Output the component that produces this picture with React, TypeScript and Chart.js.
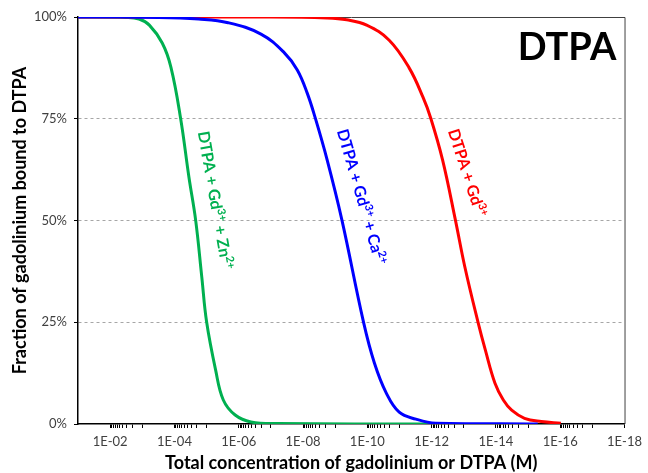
import React, { useEffect, useRef } from 'react';
import { Chart, registerables } from 'chart.js';

Chart.register(...registerables);

// ---- data (concentration in M, fraction bound in %) ----
const greenConc = [1e-1, 3.16e-3, 1.26e-3, 6.03e-4, 2.4e-4, 1.29e-4, 6.46e-5, 3.55e-5, 2.19e-5, 1.41e-5, 1.0e-5, 5.25e-6, 3.02e-6, 1.29e-6, 4.17e-7, 6.17e-8, 1e-12];
const greenFrac = [100, 99.9, 99.5, 98, 93.6, 87.7, 75.2, 60.7, 50.1, 36.1, 25.1, 13.3, 5.9, 2.2, 0.5, 0.1, 0];

const blueConc = [1e-1, 3.16e-4, 1.78e-5, 2.14e-6, 2.04e-7, 3.8e-8, 1.51e-8, 7.41e-9, 4.17e-9, 1.78e-9, 6.17e-10, 1.32e-10, 6.03e-11, 2.57e-11, 1.02e-11, 3.09e-12, 7.41e-13, 5.01e-16];
const blueFrac = [100, 99.9, 99.5, 98.6, 95.8, 91.2, 87.0, 81.3, 75.2, 64.9, 50.1, 25.1, 15.0, 7.6, 2.9, 1.2, 0.2, 0];

const redConc = [1e-1, 1e-7, 1.78e-9, 4.37e-10, 1.05e-10, 2.09e-11, 5.01e-12, 1.86e-12, 1.07e-12, 4.57e-13, 1.82e-13, 9.33e-14, 3.63e-14, 2.14e-14, 1.07e-14, 5.89e-15, 3.24e-15, 1.29e-15, 3.89e-16, 9.55e-17];
const redFrac = [100, 100, 99.75, 99.3, 98.0, 94.3, 87.5, 80.3, 75.2, 64.9, 50.1, 38.7, 25.1, 18.2, 10.0, 5.9, 3.4, 1.4, 0.6, 0.2];

const xTickValues = [1e-2, 1e-4, 1e-6, 1e-8, 1e-10, 1e-12, 1e-14, 1e-16, 1e-18];
const xTickLabels = ['1E-02', '1E-04', '1E-06', '1E-08', '1E-10', '1E-12', '1E-14', '1E-16', '1E-18'];
const yTickValues = [0, 25, 50, 75, 100];
const yTickLabels = ['0%', '25%', '50%', '75%', '100%'];

const xTitle = 'Total concentration of gadolinium or DTPA (M)';
const yTitle = 'Fraction of gadolinium bound to DTPA';
const chartTitle = 'DTPA';

const greenLabel = [['DTPA + Gd', false], ['3+', true], [' + Zn', false], ['2+', true]] as [string, boolean][];
const blueLabel = [['DTPA + Gd', false], ['3+', true], [' + Ca', false], ['2+', true]] as [string, boolean][];
const redLabel = [['DTPA + Gd', false], ['3+', true]] as [string, boolean][];

const GREEN = '#00B050';
const BLUE = '#0000FF';
const RED = '#FF0000';
const FONT = 'Lato, "Open Sans", sans-serif';

const toPoints = (xs: number[], ys: number[]) => xs.map((x, i) => ({ x, y: ys[i] }));

const labels = [
  { parts: greenLabel, conc: 1.9e-5, frac: 71.7, angle: 80, color: GREEN },
  { parts: blueLabel, conc: 8.9e-10, frac: 72, angle: 74, color: BLUE },
  { parts: redLabel, conc: 3.16e-13, frac: 72, angle: 72, color: RED },
];

const overlay = {
  id: 'overlay',
  beforeDatasetsDraw(chart: any) {
    const { ctx, chartArea } = chart;
    ctx.save();
    ctx.strokeStyle = '#404040';
    ctx.lineWidth = 1;
    ctx.beginPath();
    ctx.moveTo(chartArea.left, chartArea.top + 0.5);
    ctx.lineTo(chartArea.right + 0.5, chartArea.top + 0.5);
    ctx.lineTo(chartArea.right + 0.5, chartArea.bottom);
    ctx.stroke();
    ctx.restore();
  },
  afterDatasetsDraw(chart: any) {
    const { ctx, chartArea, scales } = chart;
    ctx.save();
    labels.forEach((lb) => {
      const px = scales.x.getPixelForValue(lb.conc);
      const py = scales.y.getPixelForValue(lb.frac);
      ctx.save();
      ctx.translate(px, py);
      ctx.rotate((lb.angle * Math.PI) / 180);
      ctx.fillStyle = lb.color;
      ctx.textBaseline = 'alphabetic';
      ctx.textAlign = 'left';
      let cx = 0;
      lb.parts.forEach(([t, sup]) => {
        ctx.font = sup ? `bold 11px ${FONT}` : `bold 16px ${FONT}`;
        ctx.fillText(t, cx, sup ? -6 : 0);
        cx += ctx.measureText(t).width;
      });
      ctx.restore();
    });
    ctx.fillStyle = '#000';
    ctx.font = `bold 38px ${FONT}`;
    ctx.textAlign = 'center';
    ctx.textBaseline = 'middle';
    ctx.fillText(chartTitle, 567, 48);
    ctx.font = `bold 18px ${FONT}`;
    ctx.fillText(xTitle, (chartArea.left + chartArea.right) / 2, 463);
    ctx.save();
    ctx.translate(20, (chartArea.top + chartArea.bottom) / 2);
    ctx.rotate(-Math.PI / 2);
    ctx.fillText(yTitle, 0, 0);
    ctx.restore();
    ctx.restore();
  },
};

export default function App() {
  const ref = useRef<HTMLCanvasElement>(null);
  useEffect(() => {
    if (!ref.current) return;
    const chart = new Chart(ref.current, {
      type: 'line',
      data: {
        datasets: [
          { label: 'DTPA + Gd + Ca', data: toPoints(blueConc, blueFrac), borderColor: BLUE },
          { label: 'DTPA + Gd', data: toPoints(redConc, redFrac), borderColor: RED },
          { label: 'DTPA + Gd + Zn', data: toPoints(greenConc, greenFrac), borderColor: GREEN },
        ].map((d) => ({
          ...d,
          borderWidth: 3,
          pointRadius: 0,
          fill: false,
          tension: 0.4,
        })),
      },
      options: {
        responsive: false,
        animation: false,
        layout: { padding: { top: 17, right: 16, left: 0, bottom: 0 } },
        plugins: { legend: { display: false }, tooltip: { enabled: false }, title: { display: false } },
        scales: {
          x: {
            type: 'logarithmic',
            reverse: true,
            min: 1e-18,
            max: 1e-1,
            afterFit: (s: any) => { s.height = 49; },
            afterBuildTicks: (s: any) => {
              const t: { value: number }[] = [];
              xTickValues.forEach((v, i) => {
                t.push({ value: v });
                if (i < xTickValues.length - 1) {
                  const next = v / 10;
                  for (let m = 9; m >= 2; m--) t.push({ value: m * next });
                  t.push({ value: next });
                }
              });
              s.ticks = t;
            },
            ticks: {
              autoSkip: false,
              maxRotation: 0,
              padding: 6,
              color: '#404040',
              font: { family: FONT, size: 13 },
              callback: (v: any) => {
                const i = xTickValues.findIndex((tv) => Math.abs(Math.log10(tv) - Math.log10(v)) < 1e-6);
                return i >= 0 ? xTickLabels[i] : '';
              },
            },
            grid: { drawOnChartArea: false, drawTicks: true, tickLength: 4, tickColor: '#000', tickWidth: 1, tickBorderDash: [] },
            border: { display: true, color: '#000', width: 1.5 },
          },
          y: {
            min: 0,
            max: 100,
            afterFit: (s: any) => { s.width = 78; },
            afterBuildTicks: (s: any) => { s.ticks = yTickValues.map((v) => ({ value: v })); },
            ticks: {
              padding: 7,
              color: '#404040',
              font: { family: FONT, size: 13 },
              callback: (v: any) => yTickLabels[yTickValues.indexOf(Number(v))] ?? '',
            },
            grid: {
              color: (c: any) => (c.tick && c.tick.value > 0 && c.tick.value < 100 ? '#A6A6A6' : 'rgba(0,0,0,0)'),
              lineWidth: 1,
              drawTicks: true,
              tickLength: 4,
              tickColor: '#000',
              tickBorderDash: [],
            },
            border: { display: true, color: '#000', width: 1.5, dash: [3, 3] },
          },
        },
      },
      plugins: [overlay],
    } as any);
    return () => chart.destroy();
  }, []);
  return (
    <div style={{ position: 'absolute', left: 0, top: 0, width: 648, height: 473, background: '#fff' }}>
      <canvas ref={ref} width={648} height={473} />
    </div>
  );
}
